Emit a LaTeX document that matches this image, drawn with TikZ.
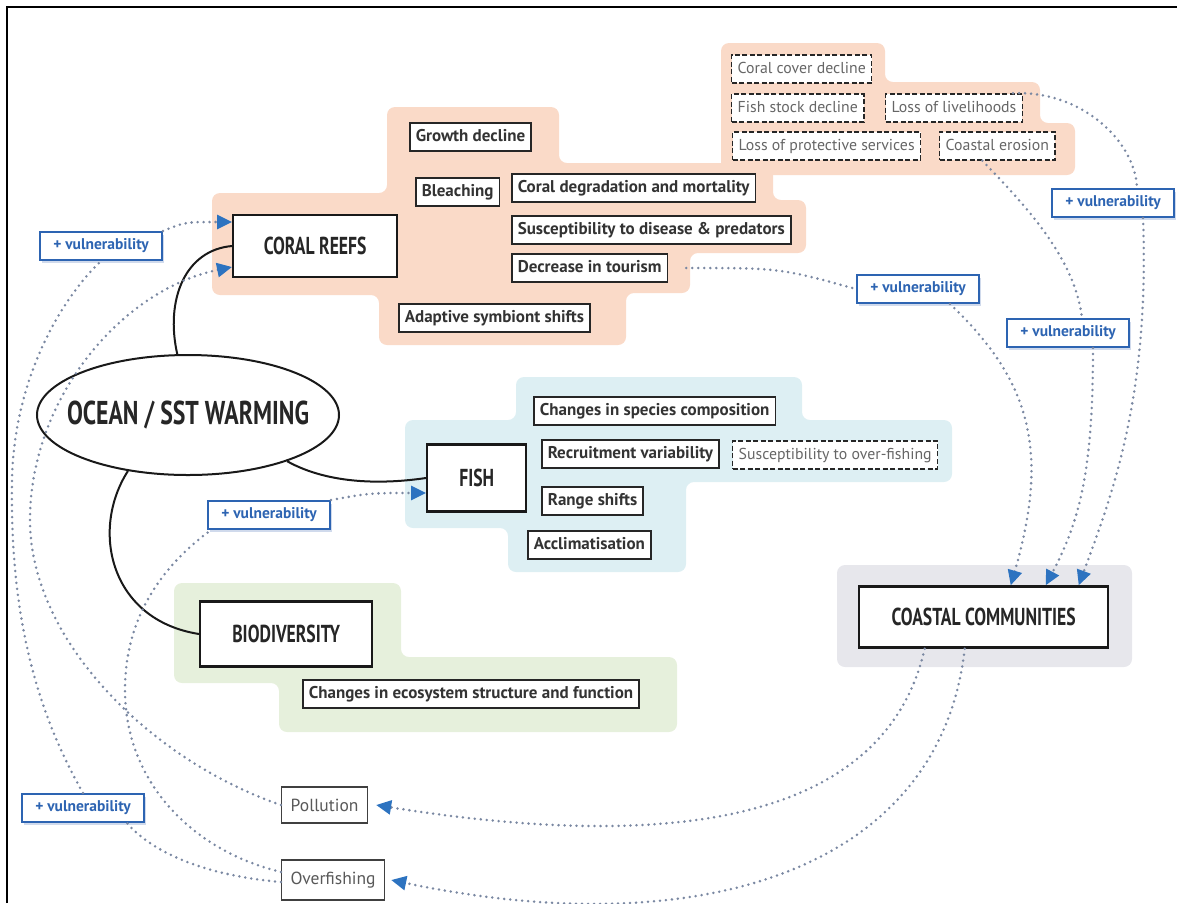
\documentclass[tikz,border=0pt]{standalone}
\usepackage{fontspec}
\setmainfont{PT Sans}
\newfontfamily\boxfont{PT Sans}
\newfontfamily\headfont{PT Sans}[FakeStretch=0.72]
\usetikzlibrary{shapes.geometric,arrows.meta,shadows}
\definecolor{coralbg}{RGB}{250,218,200}
\definecolor{fishbg}{RGB}{221,239,243}
\definecolor{biobg}{RGB}{230,240,220}
\definecolor{coastbg}{RGB}{231,231,236}
\definecolor{vulnblue}{RGB}{45,100,178}
\definecolor{shadowblue}{RGB}{120,150,200}
\definecolor{dotgray}{RGB}{122,136,162}
\definecolor{tipblue}{RGB}{45,115,192}

\begin{document}
\begin{tikzpicture}[x=1pt,y=-1pt,
  bgshape/.style={rounded corners=8pt},
  item/.style={draw=black!85,line width=1.6pt,fill=white,text=black!80,anchor=west,minimum height=28pt,inner xsep=6pt,inner ysep=0pt,text height=12pt,text depth=3.5pt,font=\boxfont\bfseries\fontsize{17}{18}\selectfont},
  effect/.style={item,dash pattern=on 5pt off 2.5pt,line width=1.4pt,text=black!60,font=\boxfont\fontsize{15.8}{17}\selectfont},
  sector/.style={draw=black!90,line width=2.4pt,fill=white,anchor=west,text=black!85,font=\headfont\bfseries\fontsize{24.5}{26}\selectfont},
  pressure/.style={draw=black!75,line width=1.4pt,fill=white,anchor=west,minimum height=36pt,inner xsep=9pt,text=black!65,font=\boxfont\fontsize{17.5}{19}\selectfont},
  vuln/.style={draw=vulnblue,line width=2pt,fill=white,text=vulnblue,minimum width=122pt,minimum height=28pt,inner sep=0pt,font=\boxfont\bfseries\fontsize{15.5}{16}\selectfont,drop shadow={shadow xshift=1.5pt,shadow yshift=-2.5pt,opacity=0.35,fill=shadowblue}},
  trunk/.style={draw=black!90,line width=2pt},
  vlink/.style={draw=dotgray,line width=2.8pt,line cap=round,dash pattern=on 0pt off 6pt},
  pointer/.style={-{Triangle[length=15pt,width=14pt,color=tipblue]}}
]
\useasboundingbox (0,0) rectangle (1177,903);
\draw[line width=1.4pt] (7,903) -- (7,7) -- (1177,7);

\fill[coralbg,bgshape] (387,107) -- (559,107) -- (559,163) -- (773,163) -- (773,200) -- (806,200) -- (806,253) -- (690,253) -- (690,293) -- (626,293) -- (626,345) -- (379,345) -- (379,295) -- (212,295) -- (212,193) -- (387,193) -- cycle;
\fill[coralbg,bgshape] (721,43) -- (885,43) -- (885,82) -- (1040,82) -- (1040,123) -- (1075,123) -- (1075,175) -- (721,175) -- cycle;
\fill[fishbg,bgshape] (516,377) -- (802,377) -- (802,420) -- (952,420) -- (952,482) -- (686,482) -- (686,572) -- (508,572) -- (508,528) -- (405,528) -- (405,420) -- (516,420) -- cycle;
\fill[biobg,bgshape] (174,583) -- (401,583) -- (401,657) -- (677,657) -- (677,732) -- (279,732) -- (279,683) -- (174,683) -- cycle;
\fill[coastbg,bgshape] (837,565) rectangle (1132,667);

\node[ellipse,draw=black!90,line width=2pt,fill=white,inner sep=0pt,minimum width=302pt,minimum height=120pt,text=black!85,font=\headfont\bfseries\fontsize{33}{35}\selectfont] (ocean) at (188,415) {\makebox[150pt]{OCEAN / SST WARMING}};

\node[sector,minimum width=164pt,minimum height=62pt] (coral) at (232,246) {CORAL REEFS};
\node[item] (growth) at (409,137) {Growth decline};
\node[item] (bleach) at (415,192) {Bleaching};
\node[item] (degrad) at (511,188) {Coral degradation and mortality};
\node[item] (suscep) at (511,230) {Susceptibility to disease \& predators};
\node[item] (tourism) at (511,268) {Decrease in tourism};
\node[item] (adapt) at (398,318) {Adaptive symbiont shifts};

\node[effect] (ccover) at (731,69) {Coral cover decline};
\node[effect] (fstock) at (731,108) {Fish stock decline};
\node[effect] (liveli) at (885,108) {Loss of livelihoods};
\node[effect] (protect) at (732,146) {Loss of protective services};
\node[effect] (erosion) at (939,146) {Coastal erosion};

\node[sector,minimum width=99pt,minimum height=67pt] (fish) at (426,478) {FISH};
\node[item] (species) at (533,411) {Changes in species composition};
\node[item] (recruit) at (541,454) {Recruitment variability};
\node[effect] (overfs) at (732,455) {Susceptibility to over-fishing};
\node[item] (range) at (541,501) {Range shifts};
\node[item] (acclim) at (527,545) {Acclimatisation};

\node[sector,minimum width=172pt,minimum height=65pt] (bio) at (199,634) {BIODIVERSITY};
\node[item] (ecosys) at (302,694) {Changes in ecosystem structure and function};

\node[sector,minimum width=249pt,minimum height=61pt] (coastal) at (858,617) {COASTAL COMMUNITIES};

\node[pressure] (pollution) at (281,805) {Pollution};
\node[pressure,minimum height=40pt] (overfishing) at (281,880) {Overfishing};

\node[vuln] (v1) at (101,246) {+ vulnerability};
\node[vuln] (v2) at (1113,203) {+ vulnerability};
\node[vuln] (v3) at (918,289) {+ vulnerability};
\node[vuln] (v4) at (1068,333) {+ vulnerability};
\node[vuln] (v5) at (269,515) {+ vulnerability};
\node[vuln] (v6) at (83,808) {+ vulnerability};

\draw[trunk] (ocean.100) .. controls (165,300) and (185,250) .. (coral.west);
\draw[trunk] (ocean.-25) .. controls (330,485) and (385,484) .. (fish.west);
\draw[trunk] (ocean.-137) .. controls (90,530) and (110,620) .. (bio.west);

\draw[vlink,pointer] (v1.north east) .. controls (185,222) .. ([yshift=24pt]coral.west);
\draw[vlink,pointer] (pollution.west) .. controls (150,760) and (30,640) .. (30,520) .. controls (30,400) and (120,290) .. ([yshift=-21pt]coral.west);
\draw[vlink] (v6.north) .. controls (30,700) and (10,600) .. (12,480) .. controls (14,380) and (60,300) .. (v1.south);
\draw[vlink] ([yshift=-2pt]overfishing.west) .. controls (200,875) and (150,850) .. ([xshift=44pt]v6.south);
\draw[vlink] ([yshift=8pt]overfishing.west) .. controls (190,850) and (125,780) .. (125,690) .. controls (125,610) and (170,560) .. ([xshift=4pt]v5.south west);
\draw[vlink,pointer] (v5.north east) .. controls (370,493) .. ([yshift=-15pt]fish.west);

\draw[vlink] ([xshift=18pt]tourism.east) .. controls (780,268) .. (v3.west);
\draw[vlink,pointer] ([xshift=32pt]v3.south) .. controls (1030,380) and (1050,450) .. ([xshift=27pt]coastal.north);
\draw[vlink] ([xshift=-15pt]erosion.south) .. controls (1030,210) and (1075,260) .. ([xshift=14pt]v4.north);
\draw[vlink,pointer] ([xshift=25pt]v4.south) .. controls (1093,470) and (1080,520) .. ([xshift=62pt]coastal.north);
\draw[vlink] ([xshift=-10pt]liveli.north east) .. controls (1080,90) and (1135,140) .. ([xshift=24pt]v2.north);
\draw[vlink,pointer] ([xshift=30pt]v2.south) .. controls (1150,400) and (1110,500) .. ([xshift=95pt]coastal.north);

\draw[vlink,pointer] ([xshift=-59pt]coastal.south) .. controls (890,800) and (720,860) .. ([xshift=8pt]pollution.east);
\draw[vlink,pointer] ([xshift=-19pt]coastal.south) .. controls (940,870) and (700,945) .. ([xshift=6pt]overfishing.east);
\end{tikzpicture}
\end{document}
